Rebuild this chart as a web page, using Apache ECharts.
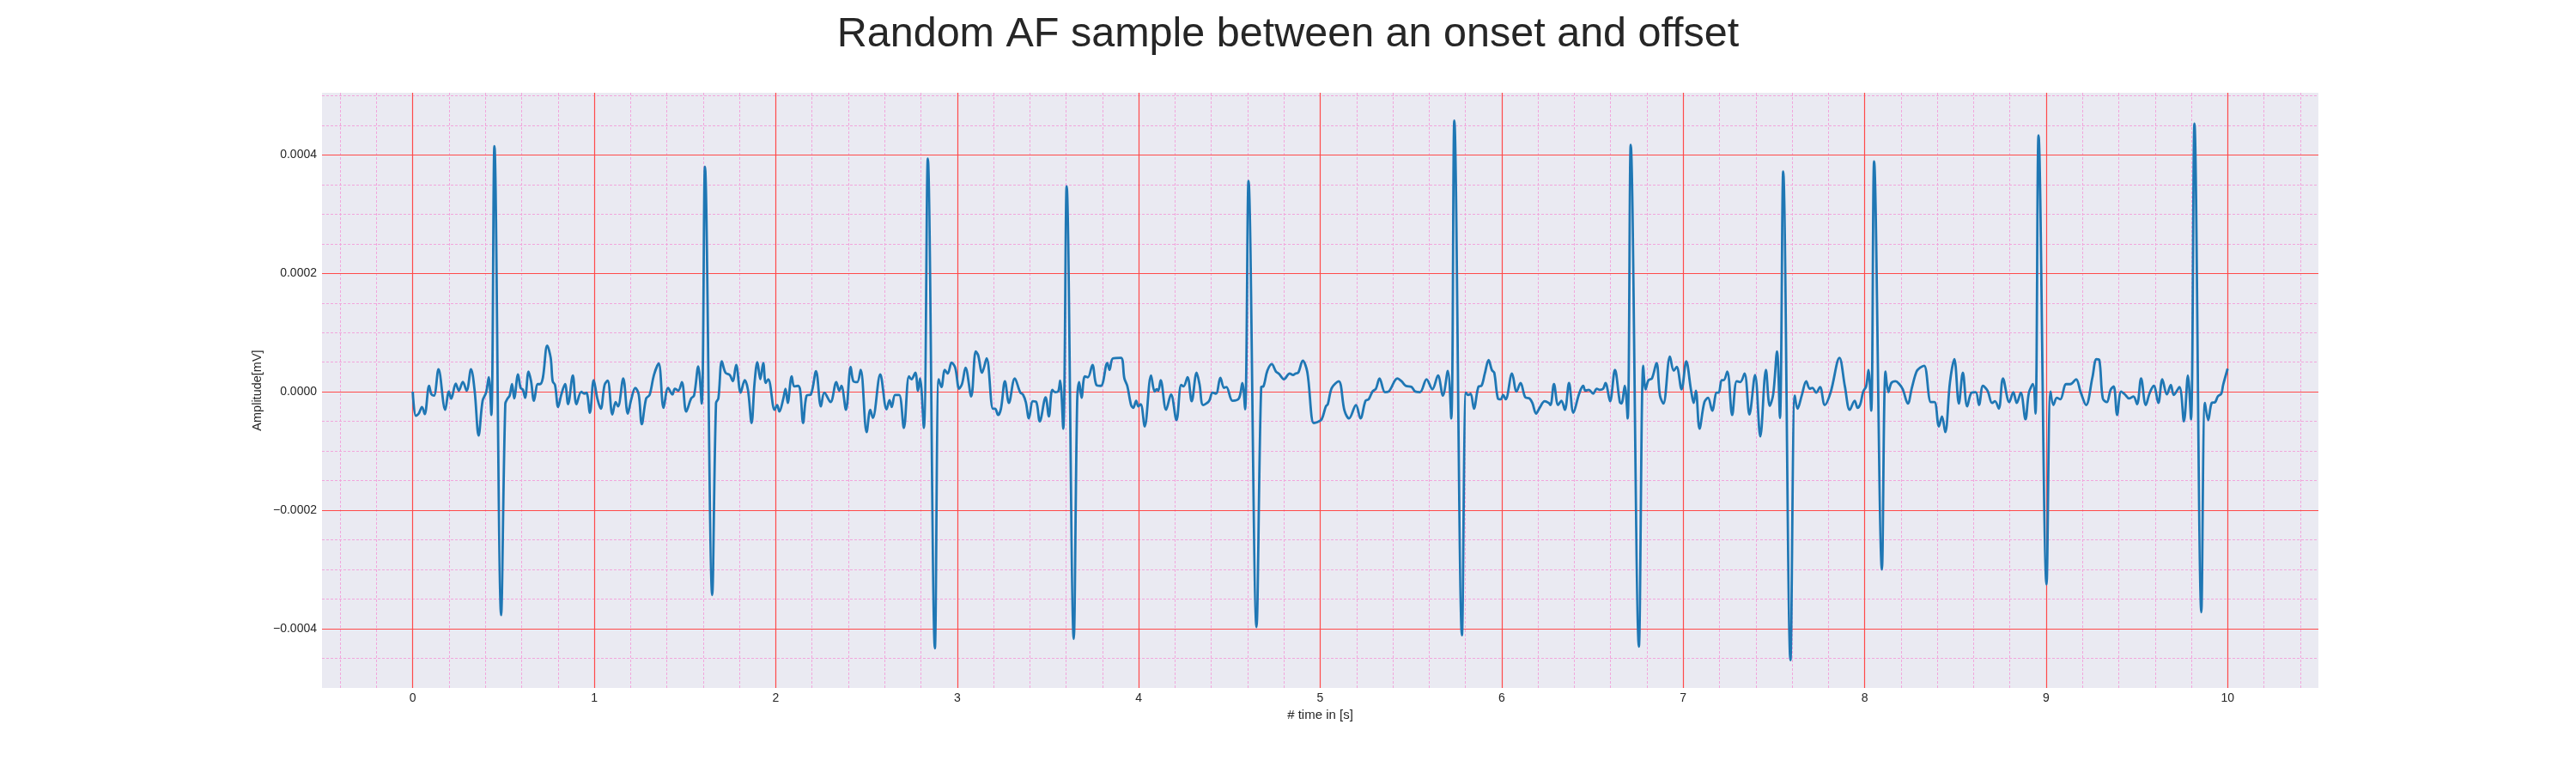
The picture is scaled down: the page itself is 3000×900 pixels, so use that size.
<!DOCTYPE html>
<html>
<head>
<meta charset="utf-8">
<script src="https://cdn.jsdelivr.net/npm/echarts@6/dist/echarts.min.js"></script>
<style>
html,body{margin:0;padding:0;background:#ffffff;}
#chart{width:3000px;height:900px;}
</style>
</head>
<body>
<div id="chart"></div>
<script>
// ---- data ----
const titleText = 'Random AF sample between an onset and offset';
const xAxisName = '# time in [s]';
const yAxisName = 'Amplitude[mV]';

const xTickValues = [0, 1, 2, 3, 4, 5, 6, 7, 8, 9, 10];
const xTickLabels = ['0', '1', '2', '3', '4', '5', '6', '7', '8', '9', '10'];
const yTickValues = [-0.0004, -0.0002, 0, 0.0002, 0.0004];
const yTickLabels = ['\u22120.0004', '\u22120.0002', '0.0000', '0.0002', '0.0004'];

// time [s]
const timeSec = [
0.000,0.017,0.033,0.051,0.066,0.090,0.103,0.117,0.142,0.179,0.199,0.212,0.237,0.254,0.276,0.297,0.321,0.341,0.363,0.385,
0.404,0.419,0.433,0.450,0.487,0.510,0.523,0.534,0.547,0.559,0.580,0.594,0.607,0.619,0.638,0.652,0.668,0.689,0.701,0.717,
0.741,0.760,0.771,0.784,0.801,0.818,0.839,0.856,0.882,0.902,0.929,0.945,0.957,0.976,0.997,1.017,1.036,1.057,1.074,1.100,
1.118,1.131,1.160,1.185,1.204,1.226,1.245,1.262,1.286,1.305,1.329,1.355,1.382,1.407,1.431,1.444,1.463,1.483,1.507,1.534,
1.550,1.573,1.592,1.610,1.650,1.671,1.684,1.703,1.723,1.747,1.763,1.782,1.807,1.829,1.847,1.867,1.883,1.899,1.915,1.931,
1.945,1.959,1.994,2.008,2.020,2.041,2.054,2.066,2.088,2.102,2.123,2.135,2.151,2.170,2.194,2.222,2.249,2.268,2.302,2.334,
2.350,2.362,2.387,2.413,2.428,2.449,2.468,2.501,2.521,2.535,2.576,2.611,2.627,2.639,2.658,2.680,2.706,2.734,2.748,2.769,
2.784,2.795,2.816,2.838,2.877,2.898,2.913,2.932,2.948,2.969,2.989,3.011,3.027,3.046,3.077,3.102,3.115,3.137,3.162,3.197,
3.209,3.225,3.241,3.263,3.285,3.317,3.348,3.362,3.378,3.395,3.417,3.436,3.455,3.487,3.505,3.524,3.540,3.556,3.567,3.584,
3.603,3.642,3.661,3.672,3.685,3.703,3.720,3.745,3.767,3.792,3.827,3.839,3.858,3.902,3.921,3.937,3.958,3.970,3.986,3.998,
4.011,4.033,4.068,4.088,4.099,4.108,4.121,4.151,4.178,4.208,4.234,4.247,4.269,4.292,4.319,4.335,4.355,4.387,4.407,4.426,
4.450,4.470,4.483,4.517,4.552,4.571,4.586,4.605,4.649,4.675,4.687,4.709,4.733,4.756,4.772,4.800,4.832,4.851,4.863,4.879,
4.904,4.929,4.964,4.984,5.008,5.031,5.042,5.064,5.102,5.134,5.159,5.197,5.222,5.250,5.267,5.288,5.307,5.327,5.357,5.377,
5.425,5.448,5.472,5.503,5.524,5.550,5.586,5.618,5.649,5.676,5.703,5.722,5.739,5.781,5.803,5.816,5.829,5.847,5.873,5.888,
5.907,5.928,5.946,5.959,5.979,5.995,6.008,6.022,6.057,6.082,6.104,6.130,6.153,6.169,6.190,6.209,6.237,6.259,6.269,6.288,
6.311,6.329,6.348,6.371,6.395,6.427,6.449,6.461,6.480,6.504,6.524,6.540,6.559,6.572,6.597,6.624,6.651,6.660,6.678,6.694,
6.711,6.756,6.780,6.793,6.809,6.828,6.853,6.872,6.891,6.927,6.948,6.964,6.991,7.017,7.043,7.058,7.070,7.090,7.117,7.137,
7.160,7.185,7.196,7.212,7.223,7.243,7.270,7.295,7.314,7.338,7.365,7.396,7.425,7.456,7.477,7.496,7.517,7.533,7.551,7.591,
7.615,7.630,7.654,7.678,7.697,7.712,7.733,7.754,7.780,7.812,7.861,7.891,7.918,7.945,7.961,7.976,7.992,8.008,8.021,8.036,
8.052,8.095,8.115,8.131,8.147,8.170,8.191,8.210,8.238,8.260,8.286,8.305,8.328,8.365,8.385,8.409,8.426,8.444,8.470,8.494,
8.519,8.541,8.565,8.589,8.612,8.630,8.652,8.677,8.702,8.718,8.739,8.762,8.797,8.819,8.838,8.860,8.886,8.905,8.927,8.941,
8.958,9.002,9.024,9.040,9.059,9.078,9.110,9.133,9.165,9.189,9.220,9.255,9.277,9.293,9.312,9.334,9.355,9.372,9.391,9.413,
9.434,9.457,9.481,9.501,9.523,9.549,9.571,9.593,9.618,9.640,9.665,9.687,9.703,9.734,9.759,9.781,9.798,9.817,9.855,9.875,
9.893,9.912,9.931,9.946,9.965,9.975,10.000
];

// amplitude [mV]
const amplitudeMv = [
0.03e-5,-4.06e-5,-3.67e-5,-2.56e-5,-3.77e-5,1.01e-5,-0.43e-5,-0.63e-5,3.82e-5,-3.04e-5,0.05e-5,-1.16e-5,1.40e-5,0.20e-5,1.69e-5,0.20e-5,3.82e-5,0.20e-5,-7.39e-5,-1.50e-5,
-0.14e-5,2.46e-5,-3.91e-5,41.5e-5,-37.7e-5,-2.00e-5,-1.11e-5,-0.63e-5,1.30e-5,-1.11e-5,2.95e-5,0.68e-5,0.34e-5,-1.01e-5,3.43e-5,1.79e-5,-1.50e-5,1.30e-5,1.30e-5,2.37e-5,
7.82e-5,5.75e-5,1.79e-5,1.16e-5,-2.56e-5,-0.53e-5,1.30e-5,-2.08e-5,2.75e-5,-2.08e-5,0.00e-5,-0.30e-5,-0.14e-5,-3.53e-5,1.98e-5,-1.11e-5,-2.85e-5,1.16e-5,1.88e-5,-3.82e-5,
-1.74e-5,-2.46e-5,2.27e-5,-3.67e-5,-1.26e-5,0.68e-5,-0.43e-5,-5.46e-5,-1.11e-5,-0.53e-5,2.85e-5,4.78e-5,-2.70e-5,0.68e-5,-0.43e-5,0.53e-5,0.20e-5,1.64e-5,-3.33e-5,-1.11e-5,
-0.63e-5,4.30e-5,-1.98e-5,38.0e-5,-34.3e-5,-1.88e-5,-1.11e-5,5.17e-5,3.24e-5,2.85e-5,1.79e-5,4.54e-5,-0.14e-5,1.98e-5,0.34e-5,-5.26e-5,1.40e-5,5.02e-5,2.13e-5,4.88e-5,
1.50e-5,2.13e-5,-3.04e-5,-2.22e-5,-3.33e-5,-1.26e-5,0.53e-5,-1.88e-5,2.61e-5,0.92e-5,1.01e-5,0.20e-5,-5.26e-5,-0.63e-5,-0.43e-5,3.48e-5,-2.46e-5,-0.14e-5,-1.74e-5,1.64e-5,
0.20e-5,1.01e-5,-3.04e-5,4.20e-5,1.79e-5,1.64e-5,3.72e-5,-6.81e-5,-3.04e-5,-4.40e-5,2.95e-5,-2.95e-5,-1.40e-5,-2.56e-5,-0.53e-5,-0.53e-5,-6.09e-5,2.61e-5,2.13e-5,3.24e-5,
0.20e-5,2.27e-5,-6.09e-5,39.4e-5,-43.3e-5,2.13e-5,0.82e-5,3.72e-5,3.09e-5,4.93e-5,4.06e-5,0.53e-5,1.40e-5,4.06e-5,-0.77e-5,6.81e-5,6.23e-5,3.24e-5,5.65e-5,-2.85e-5,
-2.85e-5,-3.91e-5,-2.85e-5,1.79e-5,-1.88e-5,2.27e-5,-0.14e-5,-0.43e-5,-1.74e-5,-4.49e-5,-1.59e-5,-1.74e-5,-4.97e-5,-0.92e-5,-4.15e-5,0.34e-5,-0.05e-5,0.05e-5,1.88e-5,-6.23e-5,
34.7e-5,-41.7e-5,-1.50e-5,1.64e-5,-1.01e-5,2.61e-5,2.46e-5,4.54e-5,1.16e-5,1.01e-5,4.88e-5,3.72e-5,5.65e-5,5.75e-5,2.27e-5,1.01e-5,-2.22e-5,-2.70e-5,-1.50e-5,-2.46e-5,
-2.08e-5,-5.84e-5,2.75e-5,0.05e-5,0.43e-5,0.20e-5,1.98e-5,-3.04e-5,-0.43e-5,-4.78e-5,1.16e-5,0.92e-5,2.46e-5,-1.59e-5,3.24e-5,1.30e-5,-2.22e-5,-1.59e-5,-0.14e-5,-0.30e-5,
2.37e-5,0.68e-5,0.82e-5,-1.50e-5,-1.11e-5,1.50e-5,-2.95e-5,35.6e-5,-39.7e-5,0.82e-5,0.92e-5,3.57e-5,4.69e-5,3.43e-5,3.09e-5,2.13e-5,3.09e-5,2.85e-5,3.09e-5,3.24e-5,
5.27e-5,3.33e-5,-5.26e-5,-5.12e-5,-4.64e-5,-2.46e-5,-2.08e-5,0.68e-5,1.79e-5,-3.19e-5,-4.49e-5,-2.22e-5,-4.49e-5,-1.50e-5,-1.26e-5,0.05e-5,0.53e-5,2.27e-5,-0.05e-5,0.05e-5,
2.27e-5,1.79e-5,1.01e-5,0.82e-5,0.05e-5,-0.05e-5,2.13e-5,0.43e-5,2.75e-5,-0.63e-5,3.53e-5,-4.49e-5,45.8e-5,-41.1e-5,-0.14e-5,-0.53e-5,-0.30e-5,-2.85e-5,0.92e-5,1.01e-5,
3.09e-5,5.36e-5,3.67e-5,3.24e-5,-1.11e-5,-1.26e-5,-0.53e-5,-1.26e-5,3.09e-5,0.05e-5,1.50e-5,-0.92e-5,-1.11e-5,-1.88e-5,-3.67e-5,-2.70e-5,-1.59e-5,-1.88e-5,-2.22e-5,1.30e-5,
-2.22e-5,-1.50e-5,-3.04e-5,1.50e-5,-3.53e-5,-0.30e-5,1.01e-5,0.20e-5,0.34e-5,-0.30e-5,0.53e-5,0.34e-5,0.53e-5,1.50e-5,-1.59e-5,3.72e-5,-1.74e-5,-1.98e-5,1.01e-5,-4.49e-5,
41.7e-5,-43.0e-5,4.40e-5,0.43e-5,1.98e-5,2.27e-5,4.88e-5,-0.63e-5,-1.98e-5,5.94e-5,3.57e-5,4.20e-5,0.43e-5,5.17e-5,0.34e-5,-1.88e-5,0.20e-5,-6.23e-5,-1.74e-5,-1.01e-5,
-3.19e-5,-0.14e-5,-0.14e-5,1.98e-5,1.98e-5,3.43e-5,-3.91e-5,1.79e-5,1.64e-5,3.09e-5,-3.82e-5,2.85e-5,-7.53e-5,3.72e-5,-2.37e-5,-0.43e-5,6.81e-5,-4.40e-5,37.2e-5,-45.3e-5,
-0.63e-5,-2.85e-5,-0.53e-5,1.79e-5,0.53e-5,0.68e-5,-0.14e-5,0.82e-5,-2.22e-5,-0.14e-5,5.75e-5,0.92e-5,-3.04e-5,-1.50e-5,-2.70e-5,-2.08e-5,0.05e-5,0.92e-5,3.72e-5,-3.19e-5,
38.9e-5,-30.0e-5,3.43e-5,-0.05e-5,1.50e-5,1.79e-5,1.30e-5,0.43e-5,-1.98e-5,0.68e-5,3.43e-5,4.06e-5,4.40e-5,-1.74e-5,-1.74e-5,-5.84e-5,-4.15e-5,-6.81e-5,1.64e-5,5.51e-5,
-1.98e-5,3.24e-5,-2.46e-5,-0.14e-5,-0.05e-5,-2.22e-5,1.01e-5,0.20e-5,-1.88e-5,-1.59e-5,-2.85e-5,2.27e-5,-1.74e-5,-0.05e-5,-1.88e-5,-0.14e-5,-4.64e-5,-0.14e-5,1.30e-5,-3.67e-5,
43.3e-5,-32.5e-5,0.05e-5,-2.22e-5,-1.01e-5,-1.26e-5,1.30e-5,1.30e-5,2.13e-5,0.05e-5,-2.22e-5,2.46e-5,5.51e-5,5.36e-5,-1.11e-5,-1.74e-5,0.34e-5,0.92e-5,-3.91e-5,0.05e-5,
-0.43e-5,-1.11e-5,-0.77e-5,-2.08e-5,2.27e-5,-2.22e-5,-0.14e-5,1.01e-5,-1.88e-5,2.13e-5,-0.43e-5,1.16e-5,-0.53e-5,0.82e-5,-4.97e-5,2.75e-5,-4.64e-5,45.3e-5,-37.2e-5,-1.88e-5,
-4.78e-5,-1.88e-5,-1.74e-5,-0.77e-5,-0.30e-5,1.16e-5,3.91e-5
];

// ---- chart ----
const FONT = "'Liberation Sans', Arial, 'DejaVu Sans', sans-serif";
const TEXT = '#262626';
const MAJOR = '#ff4a4a';
const MINOR = '#f2a6dc';
const T = 'rgba(0,0,0,0)';

const xMin = -0.5, xMax = 10.5;
const yMin = -0.0005, yMax = 0.000505;

function labelFor(values, labels, v) {
  for (let i = 0; i < values.length; i++) {
    if (Math.abs(values[i] - v) < 1e-9) return labels[i];
  }
  return '';
}

const seriesData = timeSec.map((t, i) => [t, amplitudeMv[i]]);

const chart = echarts.init(document.getElementById('chart'), null, {renderer: 'canvas', width: 3000, height: 900});

chart.setOption({
  animation: false,
  backgroundColor: '#ffffff',
  title: {
    text: titleText,
    left: 'center',
    top: 11,
    textStyle: {fontFamily: FONT, fontSize: 48.5, fontWeight: 'normal', color: TEXT}
  },
  grid: {
    left: 375, right: 300, top: 108, bottom: 99,
    show: true, backgroundColor: '#eaeaf2', borderWidth: 0
  },
  xAxis: [
    {
      type: 'value', min: xMin, max: xMax, interval: 0.5,
      name: xAxisName, nameLocation: 'middle', nameGap: 22,
      nameTextStyle: {fontFamily: FONT, fontSize: 15, color: TEXT},
      axisLine: {show: false}, axisTick: {show: false},
      axisLabel: {
        fontFamily: FONT, fontSize: 14, color: TEXT, margin: 5,
        showMinLabel: true, showMaxLabel: true,
        formatter: v => labelFor(xTickValues, xTickLabels, v)
      },
      splitLine: {show: true, lineStyle: {color: [T, MAJOR], width: 1.2, type: 'solid'}},
      z: 2
    },
    {
      type: 'value', min: xMin, max: xMax, interval: 0.1, position: 'bottom',
      axisLine: {show: false}, axisTick: {show: false}, axisLabel: {show: false},
      splitLine: {show: true, lineStyle: {color: [T, MINOR, T, MINOR, T, T, T, MINOR, T, MINOR], width: 1, type: [3, 2]}},
      z: 1
    }
  ],
  yAxis: [
    {
      type: 'value', min: yMin, max: yMax, interval: 0.0001,
      name: yAxisName, nameLocation: 'middle', nameGap: 59, nameRotate: 90,
      nameTextStyle: {fontFamily: FONT, fontSize: 14.5, color: TEXT},
      axisLine: {show: false}, axisTick: {show: false},
      axisLabel: {
        fontFamily: FONT, fontSize: 14, color: TEXT, margin: 6,
        showMinLabel: true, showMaxLabel: true,
        formatter: v => labelFor(yTickValues, yTickLabels, v)
      },
      splitLine: {show: true, lineStyle: {color: [T, MAJOR, T, MAJOR, T, MAJOR, T, MAJOR, T, MAJOR, T, T], width: 1.2, type: 'solid'}},
      z: 2
    },
    {
      type: 'value', min: yMin, max: yMax, interval: 0.00005, position: 'left',
      axisLine: {show: false}, axisTick: {show: false}, axisLabel: {show: false},
      splitLine: {show: true, lineStyle: {
        color: [T, MINOR, T, MINOR, MINOR, MINOR, T, MINOR, MINOR, MINOR, T, MINOR, MINOR, MINOR, T, MINOR, MINOR, MINOR, T, MINOR, MINOR, T],
        width: 1, type: [3, 2]}},
      z: 1
    }
  ],
  series: [{
    type: 'line',
    xAxisIndex: 0, yAxisIndex: 0,
    data: seriesData,
    showSymbol: false,
    symbol: 'none',
    smooth: 0.35,
    lineStyle: {color: '#1f77b4', width: 2.8},
    z: 5
  }]
});
</script>
</body>
</html>
